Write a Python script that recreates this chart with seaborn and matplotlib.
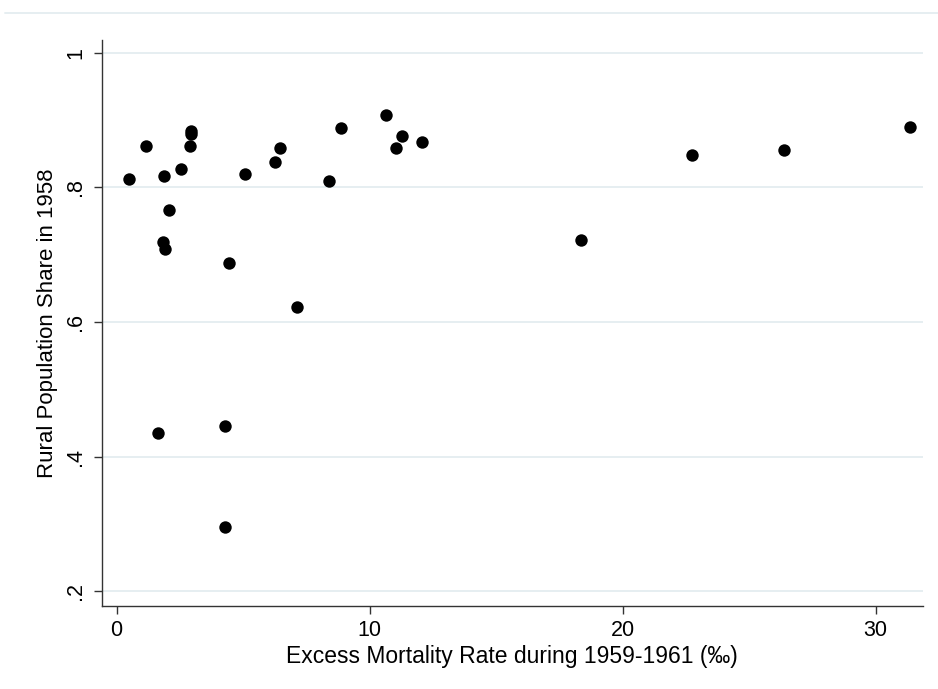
import matplotlib
matplotlib.use("Agg")
import matplotlib.pyplot as plt
import seaborn as sns
import pandas as pd
from matplotlib.lines import Line2D

# Excess mortality (per mille) vs rural population share
excess_mortality = [0.49, 1.15, 1.88, 2.54, 2.90, 2.94, 2.94, 2.06, 1.84, 1.91,
                    5.08, 6.27, 6.44, 4.43, 8.87, 8.38, 10.66, 11.26, 11.05, 12.06,
                    7.11, 1.62, 4.29, 4.29, 18.34, 22.74, 26.38, 31.34]
rural_share = [0.812, 0.862, 0.817, 0.828, 0.862, 0.884, 0.879, 0.766, 0.719, 0.709,
               0.820, 0.837, 0.858, 0.688, 0.888, 0.810, 0.908, 0.877, 0.859, 0.867,
               0.622, 0.435, 0.446, 0.295, 0.722, 0.848, 0.856, 0.890]

x_ticks = [0, 10, 20, 30]
y_ticks = [0.2, 0.4, 0.6, 0.8, 1.0]
y_tick_labels = [".2", ".4", ".6", ".8", "1"]

df = pd.DataFrame({"mortality": excess_mortality, "rural": rural_share})

sns.set_style("white")
plt.rcParams["font.family"] = ["Liberation Sans", "DejaVu Sans"]
plt.rcParams["text.color"] = "black"
plt.rcParams["axes.labelcolor"] = "black"
plt.rcParams["xtick.color"] = "black"
plt.rcParams["ytick.color"] = "black"

grid_color = "#e6eef1"

fig = plt.figure(figsize=(9.38, 6.89), dpi=100)
ax = fig.add_axes([0.1084, 0.1205, 0.8756, 0.8215])

# Stata-style horizontal grid lines
for yt in y_ticks:
    ax.axhline(yt, color=grid_color, linewidth=1.4, zorder=0)

sns.scatterplot(data=df, x="mortality", y="rural", ax=ax, color="black",
                s=80, edgecolor="black", linewidth=0, zorder=3)

ax.set_xlim(-0.593, 31.87)
ax.set_ylim(0.178, 1.019)
ax.set_xticks(x_ticks)
ax.set_yticks(y_ticks)
ax.set_yticklabels(y_tick_labels, rotation=90, va="center")
ax.tick_params(axis="both", which="major", bottom=True, left=True,
               labelsize=15.5, length=6, width=1, color="#333333",
               labelcolor="black", direction="out")
ax.tick_params(axis="x", pad=4)
ax.tick_params(axis="y", pad=5)

ax.set_xlabel("Excess Mortality Rate during 1959-1961 (‰)", fontsize=16.5, labelpad=3)
ax.set_ylabel("Rural Population Share in 1958", fontsize=16, labelpad=5)

for side in ["top", "right"]:
    ax.spines[side].set_visible(False)
for side in ["left", "bottom"]:
    ax.spines[side].set_color("#333333")
    ax.spines[side].set_linewidth(1)

# faint outer border line at top of the graph region
fig.add_artist(Line2D([0.005, 1.0], [1 - 13 / 689, 1 - 13 / 689],
                      transform=fig.transFigure, color=grid_color, linewidth=1.4))

fig.savefig("out.png", dpi=100, facecolor="white")
